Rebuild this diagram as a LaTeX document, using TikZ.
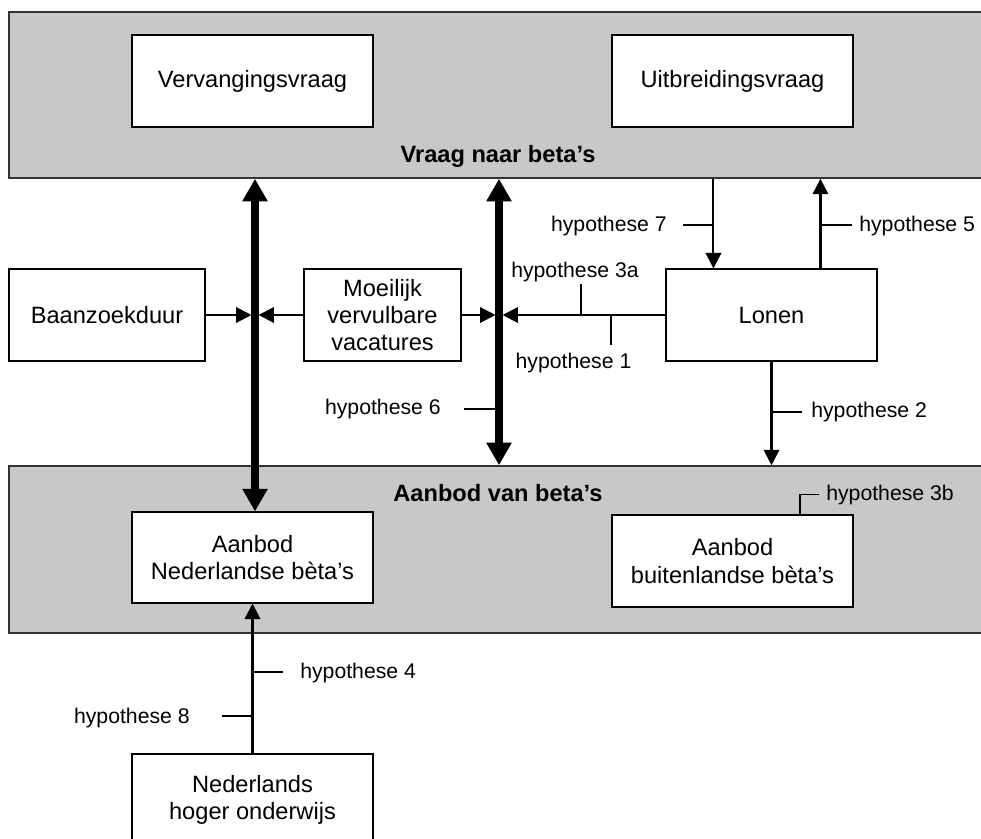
\documentclass[tikz,border=0pt]{standalone}
\usepackage{fontspec}
\setmainfont{Liberation Sans}
\usepackage{tikz}
\usetikzlibrary{arrows.meta,calc}
\definecolor{bandgray}{RGB}{200,200,200}
\def\px{0.025cm}

\begin{document}
\begin{tikzpicture}[x=0.025cm, y=-0.025cm,
	band/.style={draw=black!80, line width=1.1pt, fill=bandgray, minimum height={166*\px}, inner sep=0pt},
	box/.style={draw, line width=0.8pt, fill=white, align=center, inner sep=0pt, minimum height={92*\px}, font=\fontsize{16.8}{19.4}\selectfont},
	hyp/.style={inner sep=0pt, font=\fontsize{15.1}{18}\selectfont},
	bandlabel/.style={inner sep=0pt, font=\fontsize{16.8}{19.4}\selectfont\bfseries},
	bigarrow/.style={line width=5pt, {Triangle[length=16pt,width=17pt]}-{Triangle[length=16pt,width=17pt]}},
	arrow/.style={line width=1.5pt, -{Triangle[length=11pt,width=11pt]}},
	tick/.style={line width=1.1pt}]
			%%%%% START %%%%%
			\useasboundingbox (0,0) rectangle (981,839);
			\clip (0,0) rectangle (981,839);
			
			% de twee grijze banden
			\node[band, minimum width={980*\px}] (vraag) at (499,95) {};
			\node[band, minimum width={980*\px}, minimum height={167*\px}] (aanbod) at (499,549.5) {};
			\node[bandlabel, anchor=base] (vraaglbl) at (498,163) {Vraag naar beta’s};
			\node[bandlabel, anchor=base] (aanbodlbl) at (498,502) {Aanbod van beta’s};
			
			\node[box, minimum width={241*\px}] (verv) at (252.5,81) {Vervangingsvraag};
			\node[box, minimum width={241*\px}] (uitb) at (732.5,81) {Uitbreidingsvraag};
			\node[box, minimum width={196*\px}] (baan) at (107,315) {Baanzoekduur};
			\node[box, minimum width={157*\px}] (moeil) at (382.5,315) {Moeilijk\\vervulbare\\vacatures};
			\node[box, minimum width={211*\px}] (lonen) at (771.5,315) {Lonen};
			\node[box, minimum width={241*\px}, minimum height={91*\px}] (aned) at (252.5,557.5) {Aanbod\\Nederlandse bèta’s};
			\node[box, minimum width={241*\px}] (abuit) at (732.5,561) {Aanbod\\buitenlandse bèta’s};
			\node[box, minimum width={241*\px}] (nho) at (252.5,800) {Nederlands\\hoger onderwijs};
			
			% dikke pijlen tussen vraag en aanbod
			\coordinate (ja) at (255,315);
			\coordinate (jb) at (499,315);
			\draw[bigarrow] (vraag.south -| ja) -- (aned.north -| ja);
			\draw[bigarrow] (vraag.south -| jb) -- (aanbod.north -| jb);
			
			\draw[arrow, shorten >=2.5pt] (baan.east) -- (ja);
			\draw[arrow, shorten >=2.5pt] (moeil.west) -- (ja);
			\draw[arrow, shorten >=2.5pt] (moeil.east) -- (jb);
			\draw[arrow, shorten >=2.5pt] (lonen.west) -- (jb);
			
			\path (lonen.north west) ++(48,0) coordinate (l7) ++(107,0) coordinate (l5);
			\draw[arrow] (vraag.south -| l7) -- (l7);
			\draw[arrow] (l5) -- (vraag.south -| l5);
			\draw[arrow] (lonen.south) -- (aanbod.north -| lonen.south);
			\draw[arrow] (nho.north) -- (aned.south);
			
			% hypothesen
			\node[hyp, anchor=east] (h7) at (667,226) {hypothese 7};
			\draw[tick] (714,225) -- ++(-31,0);
			\node[hyp, anchor=west] (h5) at (859,226) {hypothese 5};
			\draw[tick] (821,225) -- ++(31,0);
			\node[hyp] (h3a) at (575,272) {hypothese 3a};
			\draw[tick] (581,314) -- ++(0,-30);
			\node[hyp] (h1) at (573.5,363) {hypothese 1};
			\draw[tick] (611,314) -- ++(0,31);
			\node[hyp, anchor=east] (h6) at (441,409) {hypothese 6};
			\draw[tick] (499,409) -- ++(-35,0);
			\node[hyp, anchor=west] (h2) at (811,412) {hypothese 2};
			\draw[tick] (771.5,412) -- ++(30,0);
			\node[hyp, anchor=west] (h3b) at (826,495) {hypothese 3b};
			\draw[tick] (abuit.north) ++(67.5,0) |- ++(19,-20);
			\node[hyp, anchor=west] (h4) at (300,673) {hypothese 4};
			\draw[tick] (252.5,672) -- ++(30,0);
			\node[hyp, anchor=east] (h8) at (190,718) {hypothese 8};
			\draw[tick] (252.5,716) -- ++(-31,0);
			%%%%% END %%%%%
		\end{tikzpicture}
\end{document}
